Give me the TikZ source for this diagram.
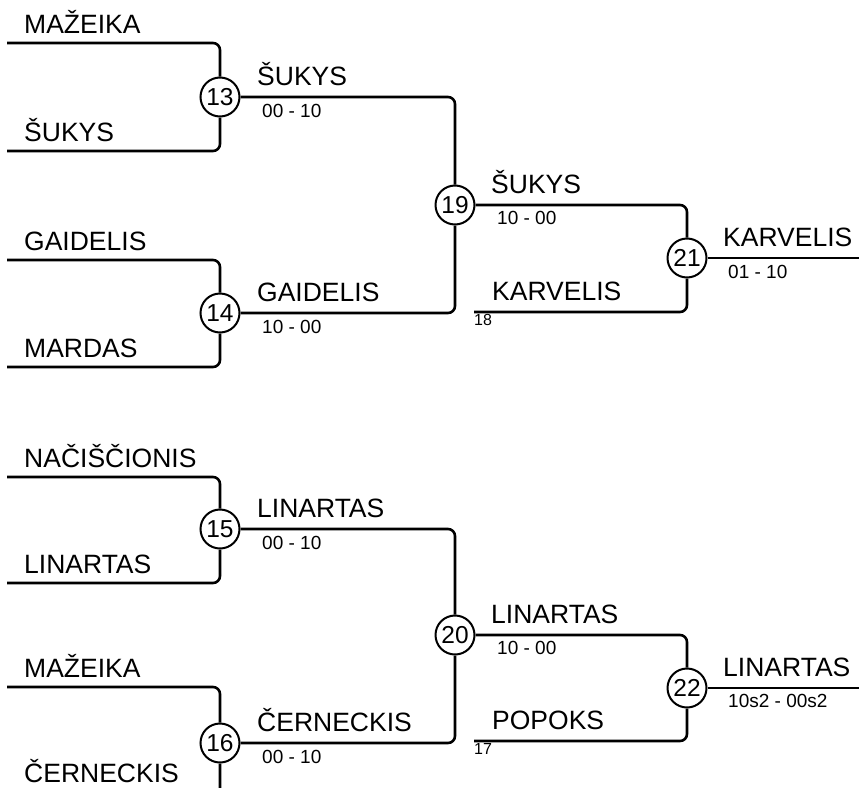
\documentclass[tikz,border=0pt]{standalone}
\usepackage{fontspec}
\setmainfont{Liberation Sans}
\usetikzlibrary{positioning}

\begin{document}
\begin{tikzpicture}[x=1pt,y=-1pt,
  wire/.style={line width=2.6pt,rounded corners=7pt},
  match/.style={draw,circle,line width=2pt,fill=white,minimum size=39pt,inner sep=0pt,font=\fontsize{24.5}{24.5}\selectfont},
  player/.style={anchor=base west,inner sep=0pt,font=\fontsize{26.5}{26.5}\selectfont},
  score/.style={anchor=north west,inner sep=0pt,font=\fontsize{19}{19}\selectfont},
  seed/.style={anchor=north west,inner sep=0pt,font=\fontsize{16}{16}\selectfont}]
\useasboundingbox (0,0) rectangle (859,787);

% first round
\coordinate (e13a) at (7,43);
\coordinate (e13b) at (7,151);
\coordinate (e14a) at (7,260);
\coordinate (e14b) at (7,367);
\coordinate (e15a) at (7,477);
\coordinate (e15b) at (7,583);
\coordinate (e16a) at (7,687);
\coordinate (e16b) at (7,797);

\node[match] (m13) at (220,97) {13};
\node[match] (m14) at (220,313) {14};
\node[match] (m15) at (220,529) {15};
\node[match] (m16) at (220,743) {16};

% second round
\node[match] (m19) at (455,205) {19};
\node[match] (m20) at (455,635) {20};
\coordinate (b18) at (474,312);
\coordinate (b17) at (474,741);

% final
\node[match] (m21) at (687,258) {21};
\node[match] (m22) at (687,688) {22};
\coordinate (f21) at (862,258);
\coordinate (f22) at (862,688);

\draw[wire] (e13a) -| (m13);
\draw[wire] (e13b) -| (m13);
\draw[wire] (e14a) -| (m14);
\draw[wire] (e14b) -| (m14);
\draw[wire] (e15a) -| (m15);
\draw[wire] (e15b) -| (m15);
\draw[wire] (e16a) -| (m16);
\draw[wire] (e16b) -| (m16);
\draw[wire] (m13) -| (m19);
\draw[wire] (m14) -| (m19);
\draw[wire] (m15) -| (m20);
\draw[wire] (m16) -| (m20);
\draw[wire] (m19) -| (m21);
\draw[wire] (b18) -| (m21);
\draw[wire] (m20) -| (m22);
\draw[wire] (b17) -| (m22);
\draw[wire] (m21) -- (f21);
\draw[wire] (m22) -- (f22);

% names and scores
\node[player] (p13a) at (24,33) {MAŽEIKA};
\node[player] (p13b) at (24,141) {ŠUKYS};
\node[player] (w13) at (257,85) {ŠUKYS};
\node[score] (s13) at (262,104) {00 - 10};

\node[player] (p14a) at (24,250) {GAIDELIS};
\node[player] (p14b) at (24,357) {MARDAS};
\node[player] (w14) at (257,301) {GAIDELIS};
\node[score] (s14) at (262,320) {10 - 00};

\node[player] (w19) at (491,193) {ŠUKYS};
\node[score] (s19) at (497,211) {10 - 00};
\node[player] (p18) at (492,300) {KARVELIS};
\node[seed] (n18) at (474,314) {18};

\node[player] (w21) at (723,246) {KARVELIS};
\node[score] (s21) at (728,265) {01 - 10};

\node[player] (p15a) at (24,467) {NAČIŠČIONIS};
\node[player] (p15b) at (24,573) {LINARTAS};
\node[player] (w15) at (257,517) {LINARTAS};
\node[score] (s15) at (262,536) {00 - 10};

\node[player] (p16a) at (24,677) {MAŽEIKA};
\node[player] (p16b) at (24,782) {ČERNECKIS};
\node[player] (w16) at (257,731) {ČERNECKIS};
\node[score] (s16) at (262,750) {00 - 10};

\node[player] (w20) at (491,623) {LINARTAS};
\node[score] (s20) at (497,641) {10 - 00};
\node[player] (p17) at (492,729) {POPOKS};
\node[seed] (n17) at (474,743) {17};

\node[player] (w22) at (723,676) {LINARTAS};
\node[score] (s22) at (728,694) {10s2 - 00s2};
\end{tikzpicture}
\end{document}
